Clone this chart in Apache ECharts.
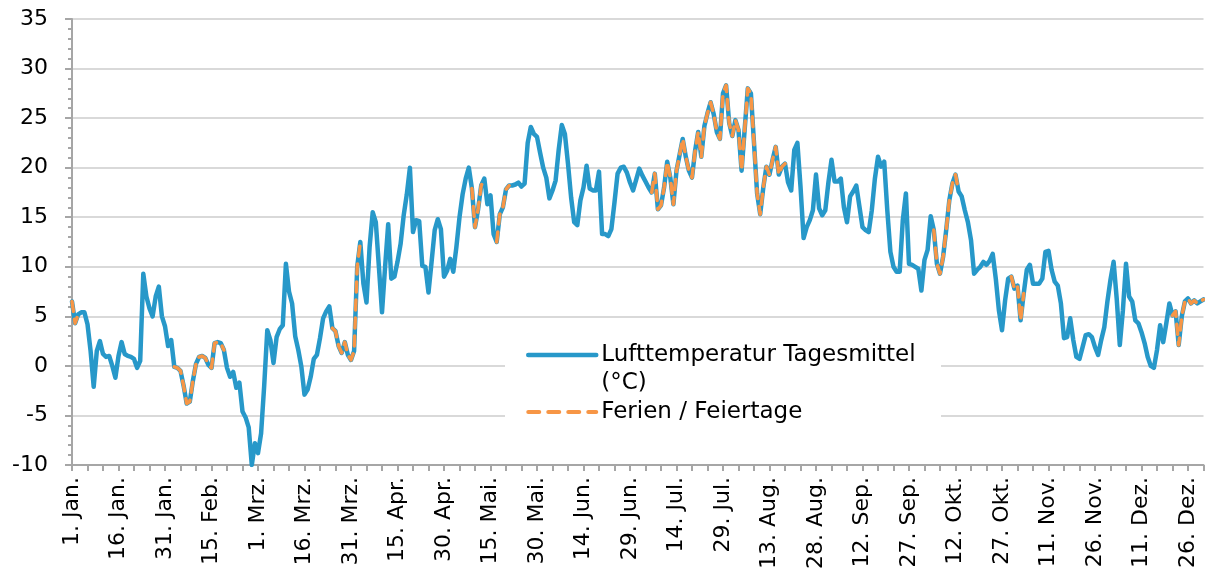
<!DOCTYPE html>
<html>
<head>
<meta charset="utf-8">
<script src="https://cdn.jsdelivr.net/npm/echarts@6/dist/echarts.min.js"></script>
<style>
  html, body { margin: 0; padding: 0; background: #fff; }
  #chart { width: 1205px; height: 582px; }
</style>
</head>
<body>
<div id="chart"></div>
<script>
// Beschriftung der Hauptstriche (alle 15 Tage, Schaltjahr)
const tickLabels = ['1. Jan.', '16. Jan.', '31. Jan.', '15. Feb.', '1. Mrz.', '16. Mrz.', '31. Mrz.',
  '15. Apr.', '30. Apr.', '15. Mai.', '30. Mai.', '14. Jun.', '29. Jun.', '14. Jul.', '29. Jul.',
  '13. Aug.', '28. Aug.', '12. Sep.', '27. Sep.', '12. Okt.', '27. Okt.', '11. Nov.', '26. Nov.',
  '11. Dez.', '26. Dez.'];

// Tagesmittel der Lufttemperatur (°C), Tag 0 = 1. Jan.
const temps = [
  6.5, 4.3, 5.2, 5.4, 5.4, 4.2, 1.5, -2.1, 1.5, 2.5,
  1.2, 0.9, 1.0, 0.0, -1.2, 1.0, 2.4, 1.2, 1.0, 0.9,
  0.7, -0.2, 0.5, 9.3, 7.0, 5.8, 5.0, 7.0, 8.0, 5.0,
  4.0, 2.0, 2.6, -0.1, -0.2, -0.5, -2.0, -3.8, -3.6, -1.5,
  0.2, 0.9, 1.0, 0.8, 0.1, -0.2, 2.3, 2.4, 2.3, 1.6,
  -0.2, -1.1, -0.6, -2.2, -1.7, -4.6, -5.2, -6.2, -10.0, -7.8,
  -8.8, -6.8, -2.0, 3.6, 2.6, 0.3, 2.9, 3.7, 4.1, 10.3,
  7.5, 6.3, 3.0, 1.6, -0.1, -2.9, -2.4, -1.1, 0.7, 1.1,
  2.8, 4.8, 5.5, 6.0, 3.8, 3.5, 2.0, 1.3, 2.4, 1.1,
  0.6, 1.5, 10.0, 12.5, 8.3, 6.4, 12.0, 15.5, 14.5, 10.0,
  5.4, 10.0, 14.3, 8.8, 9.0, 10.5, 12.3, 15.2, 17.3, 20.0,
  13.5, 14.7, 14.6, 10.1, 10.0, 7.4, 10.5, 13.7, 14.8, 13.8,
  9.0, 9.6, 10.8, 9.5, 12.0, 15.0, 17.3, 18.9, 20.0, 17.9,
  14.0, 15.8, 18.2, 18.9, 16.3, 17.2, 13.3, 12.5, 15.3, 16.0,
  17.8, 18.2, 18.2, 18.3, 18.5, 18.1, 18.4, 22.5, 24.1, 23.4,
  23.1, 21.5, 20.0, 19.0, 16.9, 17.7, 18.7, 21.8, 24.3, 23.4,
  20.4, 17.0, 14.5, 14.2, 16.7, 18.0, 20.2, 17.9, 17.7, 17.7,
  19.6, 13.3, 13.3, 13.1, 13.8, 16.5, 19.4, 20.0, 20.1, 19.5,
  18.5, 17.7, 18.8, 19.9, 19.2, 18.6, 18.0, 17.5, 19.4, 15.8,
  16.2, 18.0, 20.6, 19.0, 16.3, 19.7, 21.3, 22.9, 21.1, 19.7,
  19.0, 21.7, 23.6, 21.1, 24.2, 25.5, 26.6, 25.4, 23.6, 22.9,
  27.5, 28.3, 24.5, 23.2, 24.8, 23.8, 19.7, 23.9, 28.0, 27.5,
  22.5, 17.4, 15.3, 18.0, 20.1, 19.3, 20.8, 22.1, 19.3, 20.1,
  20.4, 18.5, 17.7, 21.8, 22.5, 18.1, 12.9, 14.0, 14.7, 15.7,
  19.3, 15.9, 15.2, 15.7, 18.5, 20.8, 18.6, 18.6, 18.9, 16.0,
  14.5, 17.1, 17.6, 18.2, 16.1, 14.0, 13.7, 13.5, 15.7, 18.9,
  21.1, 20.1, 20.6, 15.7, 11.5, 10.0, 9.5, 9.5, 14.7, 17.4,
  10.3, 10.2, 10.0, 9.8, 7.6, 10.7, 11.7, 15.1, 13.7, 10.3,
  9.3, 11.0, 13.7, 16.7, 18.4, 19.3, 17.6, 17.1, 15.7, 14.5,
  12.7, 9.3, 9.7, 10.0, 10.5, 10.2, 10.6, 11.3, 8.8, 5.6,
  3.6, 6.6, 8.8, 9.0, 7.8, 8.1, 4.6, 7.3, 9.7, 10.2,
  8.3, 8.3, 8.3, 8.8, 11.5, 11.6, 9.7, 8.5, 8.1, 6.3,
  2.8, 2.9, 4.8, 2.6, 0.9, 0.7, 1.9, 3.1, 3.2, 2.9,
  1.9, 1.1, 2.6, 3.9, 6.5, 8.7, 10.5, 6.8, 2.1, 5.6,
  10.3, 7.0, 6.5, 4.6, 4.3, 3.4, 2.3, 0.9, 0.0, -0.2,
  1.6, 4.1, 2.4, 4.3, 6.3, 5.1, 5.5, 2.1, 5.0, 6.5,
  6.8, 6.3, 6.6, 6.3, 6.5, 6.7
];

// Ferien / Feiertage als Tagesbereiche [von, bis]
const holidays = [[0, 2], [33, 49], [84, 93], [129, 133], [137, 141],
  [187, 230], [278, 286], [303, 307], [355, 365]];

const tempName = 'Lufttemperatur Tagesmittel (°C)';
const ferienName = 'Ferien / Feiertage';
const blue = '#2798c9';
const orange = '#f79646';
const axisGray = '#a6a6a6';
const font = 'DejaVu Sans';

const tempData = temps.map((v, i) => [i, v]);
const ferienData = temps.map((v, i) =>
  holidays.some(([a, b]) => i >= a && i <= b) ? [i, v] : [i, null]);

const chart = echarts.init(document.getElementById('chart'));
chart.setOption({
  animation: false,
  grid: { left: 72, right: 1.5, top: 19, bottom: 117 },
  xAxis: {
    type: 'value',
    min: 0,
    max: 365,
    interval: 5,
    axisLine: { show: true, onZero: false, lineStyle: { color: axisGray, width: 2 } },
    axisTick: { show: true, length: 6, lineStyle: { color: axisGray, width: 2 } },
    splitLine: { show: false },
    axisLabel: {
      rotate: 90,
      margin: 12,
      fontSize: 22,
      fontFamily: font,
      color: '#000',
      formatter: v => (v % 15 === 0 && tickLabels[v / 15]) ? tickLabels[v / 15] : ''
    }
  },
  yAxis: {
    type: 'value',
    min: -10,
    max: 35,
    interval: 5,
    axisLine: { show: true, onZero: false, lineStyle: { color: axisGray, width: 2 } },
    axisTick: { show: true, length: 7, lineStyle: { color: axisGray, width: 2 } },
    minorTick: { show: true, splitNumber: 5, length: 4, lineStyle: { color: axisGray, width: 2 } },
    splitLine: { lineStyle: { color: '#d9d9d9', width: 2 } },
    axisLabel: { fontSize: 22, fontFamily: font, color: '#000', margin: 24 }
  },
  legend: {
    orient: 'vertical',
    left: 526,
    top: 313,
    padding: 0,
    itemGap: 1,
    itemWidth: 68,
    itemHeight: 14,
    itemStyle: { opacity: 0 },
    textStyle: {
      fontSize: 23, fontFamily: font, color: '#000', lineHeight: 28,
      rich: {
        s: { fontSize: 23, lineHeight: 28 },
        a: { fontSize: 23, fontFamily: font, color: '#000', lineHeight: 28 }
      }
    },
    // Zweizeiliger Eintrag: Leerzeile oben, damit die erste Zeile auf Höhe der Linie steht
    formatter: name => name === tempName
      ? '{s|\u00a0}\n{a|Lufttemperatur Tagesmittel}\n{a|(°C)}'
      : '{a|' + name + '}',
    data: [
      { name: tempName, lineStyle: { width: 4.5, cap: 'round' } },
      { name: ferienName, lineStyle: { width: 4, type: [11, 9], cap: 'round' } }
    ]
  },
  graphic: [{
    type: 'rect',
    z: 1,
    shape: { x: 505, y: 330, width: 436, height: 100 },
    style: { fill: '#fff' }
  }],
  series: [
    {
      name: tempName,
      type: 'line',
      data: tempData,
      symbol: 'none',
      z: 2,
      itemStyle: { color: blue },
      lineStyle: { color: blue, width: 4.5, cap: 'round', join: 'round' }
    },
    {
      name: ferienName,
      type: 'line',
      data: ferienData,
      symbol: 'none',
      connectNulls: false,
      z: 3,
      itemStyle: { color: orange },
      lineStyle: { color: orange, width: 3.5, type: [10, 8], cap: 'round', join: 'round' }
    }
  ]
});
</script>
</body>
</html>
